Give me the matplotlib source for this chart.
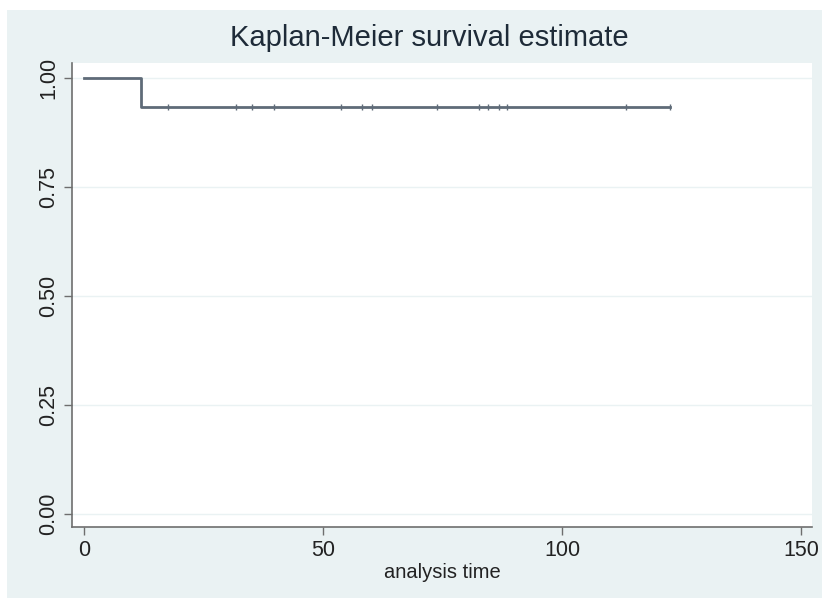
import matplotlib
matplotlib.use("Agg")
import matplotlib.pyplot as plt
from matplotlib.patches import Rectangle

# Data
step_times = [0, 12, 122.6]
step_surv = [1.0, 0.934, 0.934]
censor_times = [17.5, 31.9, 35.2, 39.8, 53.8, 58.2, 60.3, 73.8, 82.6, 84.5, 86.8, 88.4, 113.4, 122.6]
censor_surv = [0.934] * len(censor_times)
xticks = [0, 50, 100, 150]
yticks = [0.00, 0.25, 0.50, 0.75, 1.00]
ytick_labels = ["0.00", "0.25", "0.50", "0.75", "1.00"]

bg = "#EAF2F3"
line_col = "#5F6B78"
axis_col = "#6E6E6E"

plt.rcParams['font.family'] = ['Liberation Sans', 'DejaVu Sans']

fig = plt.figure(figsize=(8.22, 6.0), dpi=100, facecolor="white")
# gray outer region (Stata style graph region)
fig.patches.append(Rectangle((7/822, 1-598/600), 1-7/822, (598-10)/600,
                             transform=fig.transFigure, facecolor=bg,
                             edgecolor="none", zorder=-10))

ax = fig.add_axes([72/822, 1-527/600, (812-72)/822, (527-63)/600])
ax.set_facecolor("white")

ax.step(step_times, step_surv, where="post", color=line_col, lw=2.0, zorder=3)
ax.plot(censor_times, censor_surv, ls="none", marker="|", ms=4, mew=1.0,
        color=line_col, zorder=4)

ax.set_xlim(-2.5, 152.3)
ax.set_ylim(-0.030, 1.034)
ax.set_xticks(xticks)
ax.set_xticklabels([str(t) for t in xticks])
ax.set_yticks(yticks)
ax.set_yticklabels(ytick_labels, rotation=90, va="center")
ax.grid(axis="y", color=bg, lw=1.0)
ax.set_axisbelow(True)

for s in ["top", "right"]:
    ax.spines[s].set_visible(False)
for s in ["left", "bottom"]:
    ax.spines[s].set_color(axis_col)
    ax.spines[s].set_linewidth(1.2)
ax.tick_params(axis="both", colors=axis_col, length=6, width=1.0,
               labelsize=15.5, labelcolor="#222222", pad=3)

ax.set_xlabel("analysis time", fontsize=14.5, color="#222222", labelpad=2)
fig.text(429/822, 1 - 38/600, "Kaplan-Meier survival estimate",
         ha="center", va="center", fontsize=21, color="#1E2B38")

fig.savefig("out.png", dpi=100, facecolor="white")
